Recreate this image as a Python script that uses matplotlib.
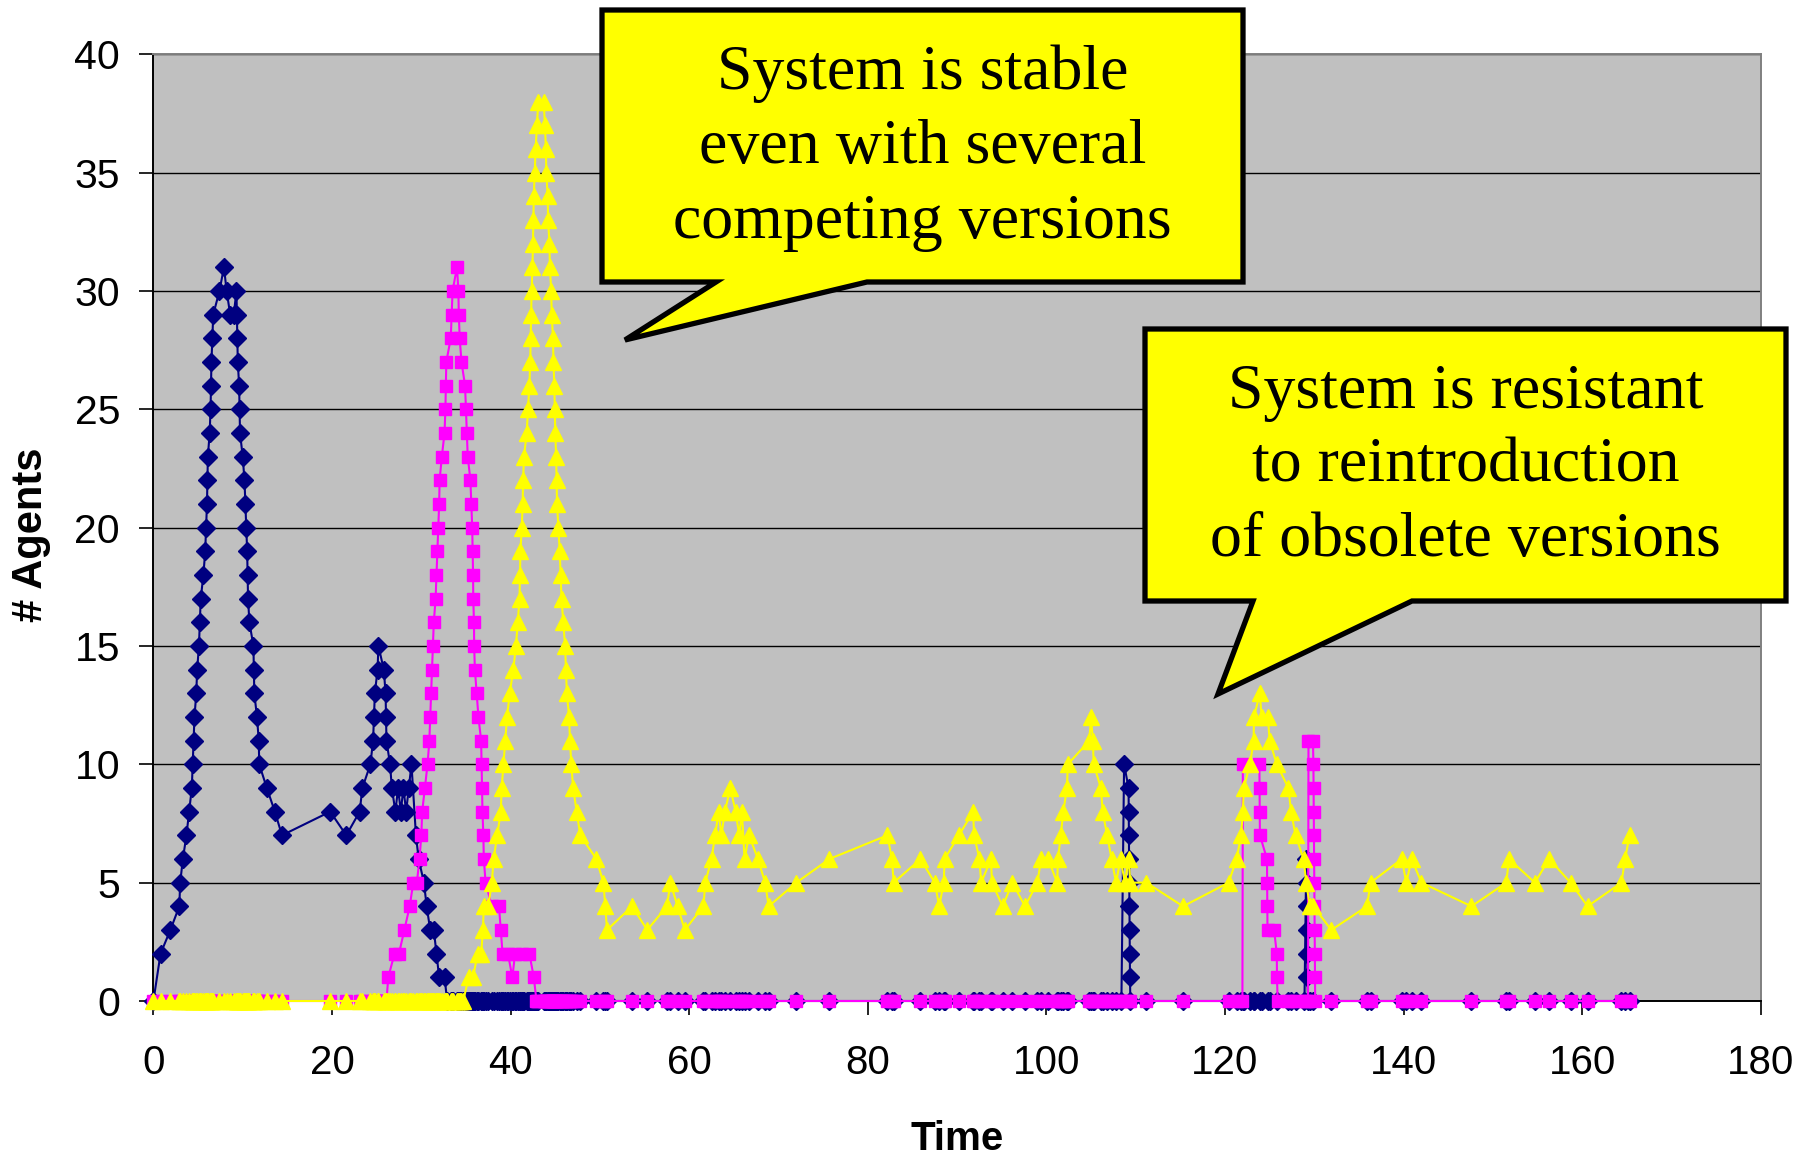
import matplotlib
matplotlib.use("Agg")
import matplotlib.pyplot as plt
from matplotlib.patches import Polygon

# ---------------------------------------------------------------------------
# Agent counts per software version over simulated time
# ---------------------------------------------------------------------------

# Version 1 (navy): initial outbreak, then dies out at t~33
v1_time = [0.0, 0.8, 1.9, 2.9, 3.0, 3.3, 3.7, 4.0, 4.3, 4.4,
           4.5, 4.6, 4.8, 4.9, 5.1, 5.2, 5.3, 5.6, 5.8, 5.9,
           6.0, 6.05, 6.1, 6.3, 6.4, 6.45, 6.5, 6.6, 6.7, 7.4,
           7.9, 8.2, 8.6, 9.0, 9.3, 9.35, 9.4, 9.45, 9.6, 9.65,
           9.7, 10.0, 10.2, 10.3, 10.4, 10.5, 10.55, 10.6, 10.75, 11.2,
           11.25, 11.3, 11.6, 11.8, 11.85, 12.7, 13.6, 14.4, 19.8, 21.6,
           23.1, 23.4, 24.3, 24.6, 24.7, 24.8, 25.1, 25.2, 25.8, 26.0,
           26.05, 26.1, 26.5, 26.7, 27.1, 27.4, 27.7, 28.0, 28.3, 28.6,
           28.9, 29.4, 29.7, 30.3, 30.6, 31.0, 31.4, 31.7, 32.0, 32.6,
           32.9]
v1_agents = [0, 2, 3, 4, 5, 6, 7, 8, 9, 10,
             11, 12, 13, 14, 15, 16, 17, 18, 19, 20,
             21, 22, 23, 24, 25, 26, 27, 28, 29, 30,
             31, 30, 29, 29, 30, 29, 28, 27, 26, 25,
             24, 23, 22, 21, 20, 19, 18, 17, 16, 15,
             14, 13, 12, 11, 10, 9, 8, 7, 8, 7,
             8, 9, 10, 11, 12, 13, 14, 15, 14, 13,
             12, 11, 10, 9, 8, 9, 8, 9, 8, 9,
             10, 7, 6, 5, 4, 3, 3, 2, 1, 1,
             0]

# Version 1 reintroduced twice later on
v1_spike_time = [108.4, 108.7, 109.2, 109.22, 109.24, 109.26, 109.28, 109.3, 109.32, 109.34,
                 109.36, 109.4,
                 128.9, 129.1, 129.15, 129.17, 129.19, 129.21, 129.23, 129.3]
v1_spike = [0, 10, 9, 8, 7, 6, 5, 4, 3, 2,
            1, 0,
            0, 6, 5, 4, 3, 2, 1, 0]

# Version 2 (magenta): takes over from version 1, then dies out at t~43
v2_time = [26.3, 27.0, 27.5, 28.1, 28.7, 29.1, 29.5, 29.8, 30.0, 30.1,
           30.4, 30.7, 30.9, 31.0, 31.1, 31.2, 31.3, 31.4, 31.6, 31.7,
           31.8, 31.9, 32.0, 32.05, 32.3, 32.6, 32.7, 32.75, 32.8, 33.3,
           33.4, 33.5, 34.0, 34.15, 34.2, 34.3, 34.5, 34.9, 35.0, 35.1,
           35.2, 35.5, 35.6, 35.7, 35.75, 35.8, 35.82, 35.9, 35.92, 36.0,
           36.2, 36.4, 36.7, 36.75, 36.8, 36.85, 36.95, 37.0, 37.2, 37.9,
           38.7, 38.9, 39.1, 39.7, 40.2, 40.5, 41.3, 42.1, 42.6, 42.9]
v2_agents = [1, 2, 2, 3, 4, 5, 5, 6, 7, 8,
             9, 10, 11, 12, 13, 14, 15, 16, 17, 18,
             19, 20, 21, 22, 23, 24, 25, 26, 27, 28,
             29, 30, 31, 30, 29, 28, 27, 26, 25, 24,
             23, 22, 21, 20, 19, 18, 17, 16, 15, 14,
             13, 12, 11, 10, 9, 8, 7, 6, 5, 4,
             4, 3, 2, 2, 1, 2, 2, 2, 1, 0]

# Version 2 reintroduced twice later on
v2_spike_time = [121.95, 122.0, 123.85, 123.87, 123.89, 123.91, 124.7, 124.72, 124.74, 124.76,
                 125.5, 125.8, 125.82, 125.9,
                 129.3, 129.35, 129.85, 129.9, 129.92, 129.94, 129.96, 129.98, 130.0, 130.02,
                 130.04, 130.06, 130.08, 130.1]
v2_spike = [0, 10, 10, 9, 8, 7, 6, 5, 4, 3,
            3, 2, 1, 0,
            0, 11, 11, 10, 9, 8, 7, 6, 5, 4,
            3, 2, 1, 0]

# Version 3 (yellow): takes over at t~35 and stays
v3_time = [34.7, 35.3, 35.8, 36.3, 36.7, 36.9, 37.0, 37.5, 37.9, 38.1,
           38.5, 38.9, 39.0, 39.2, 39.4, 39.6, 39.9, 40.3, 40.6, 40.8,
           41.0, 41.05, 41.1, 41.25, 41.35, 41.4, 41.5, 41.8, 41.95, 42.1,
           42.2, 42.25, 42.3, 42.35, 42.45, 42.5, 42.55, 42.6, 42.7, 42.8,
           42.95, 43.1, 43.7, 43.85, 43.95, 44.0, 44.15, 44.2, 44.35, 44.4,
           44.55, 44.6, 44.75, 44.8, 44.9, 44.95, 45.0, 45.1, 45.15, 45.2,
           45.35, 45.5, 45.6, 45.7, 45.9, 46.1, 46.2, 46.3, 46.55, 46.65,
           46.8, 47.0, 47.4, 47.8, 49.6, 50.4, 50.6, 50.8, 53.6, 55.3,
           57.5, 57.9, 58.7, 59.5, 61.6, 61.8, 62.5, 62.9, 63.3, 63.6,
           64.0, 64.6, 65.2, 65.6, 65.9, 66.2, 66.7, 67.7, 68.5, 68.9,
           72.0, 75.7, 82.2, 82.7, 82.9, 85.9, 87.5, 88.0, 88.5, 88.6,
           90.2, 91.8, 91.9, 92.5, 92.7, 93.8, 93.9, 95.1, 96.2, 97.6,
           99.0, 99.4, 100.2, 101.2, 101.3, 101.6, 101.9, 102.3, 102.4, 104.8,
           105.0, 105.2, 105.3, 106.1, 106.3, 106.8, 107.3, 107.8, 108.3, 108.8,
           109.2, 109.4, 111.2, 115.3, 120.4, 121.3, 121.8, 122.0, 122.1, 122.8,
           123.2, 123.25, 123.9, 124.1, 124.8, 125.0, 125.8, 127.1, 127.4, 127.9,
           128.8, 129.1, 129.5, 129.9, 131.9, 135.9, 136.3, 139.8, 140.3, 140.9,
           142.0, 147.6, 151.5, 151.8, 154.7, 156.3, 158.7, 160.6, 164.4, 164.8,
           165.3]
v3_agents = [0, 1, 1, 2, 2, 3, 4, 4, 5, 6,
             7, 8, 9, 10, 11, 12, 13, 14, 15, 16,
             17, 18, 19, 20, 21, 22, 23, 24, 25, 26,
             27, 28, 29, 30, 31, 32, 33, 34, 35, 36,
             37, 38, 38, 37, 36, 35, 34, 33, 32, 31,
             30, 29, 28, 27, 26, 25, 24, 23, 22, 21,
             20, 19, 18, 17, 16, 15, 14, 13, 12, 11,
             10, 9, 8, 7, 6, 5, 4, 3, 4, 3,
             4, 5, 4, 3, 4, 5, 6, 7, 8, 7,
             8, 9, 8, 7, 8, 6, 7, 6, 5, 4,
             5, 6, 7, 6, 5, 6, 5, 4, 5, 6,
             7, 8, 7, 6, 5, 6, 5, 4, 5, 4,
             5, 6, 6, 5, 6, 7, 8, 9, 10, 11,
             12, 11, 10, 9, 8, 7, 6, 5, 6, 5,
             6, 5, 5, 4, 5, 6, 7, 8, 9, 10,
             11, 12, 13, 12, 12, 11, 10, 9, 8, 7,
             6, 5, 4, 4, 3, 4, 5, 6, 5, 6,
             5, 4, 5, 6, 5, 6, 5, 4, 5, 6,
             7]

x_ticks = [0, 20, 40, 60, 80, 100, 120, 140, 160, 180]
y_ticks = [0, 5, 10, 15, 20, 25, 30, 35, 40]

callout_stable = "System is stable\neven with several\ncompeting versions"
callout_resistant = "System is resistant\nto reintroduction\nof obsolete versions"


def series(*parts):
    """Merge (times, values) pieces into one time-ordered series."""
    pts = []
    for times, values in parts:
        pts.extend(zip(times, values))
    pts.sort(key=lambda p: p[0])
    return [p[0] for p in pts], [p[1] for p in pts]


def idle(times):
    """A version with no agents at the given sample times."""
    return list(times), [0 for _ in times]


def outside(times, windows):
    return [t for t in times if not any(a <= t <= b for a, b in windows)]


# Sample times where a version sits at zero
v1_zero = sorted(set([t for t in v2_time if t > 32.9] + v3_time))
v1_zero = outside(v1_zero, [(108.2, 109.45), (128.7, 129.45)])
v2_zero_early = [t for t in v1_time if t < 26.3]
v2_zero_late = outside([t for t in v3_time if t > 42.9], [(121.5, 126.0), (129.2, 130.15)])
v3_zero = sorted(set([t for t in v1_time + v2_time if t < 34.7]))

v1_t, v1_n = series((v1_time, v1_agents), idle(v1_zero), (v1_spike_time, v1_spike))
v2_t, v2_n = series(idle(v2_zero_early), (v2_time, v2_agents), idle(v2_zero_late),
                    (v2_spike_time, v2_spike))
v3_t, v3_n = series(idle(v3_zero), (v3_time, v3_agents))

# ---------------------------------------------------------------------------
W, H = 1808, 1159
fig = plt.figure(figsize=(W / 100, H / 100), dpi=100)
fig.patch.set_facecolor("white")

left, right, top, bottom = 153.4, 1760.8, 54.2, 1001.0
ax = fig.add_axes([left / W, 1 - bottom / H, (right - left) / W, (bottom - top) / H])
ax.set_facecolor("#C0C0C0")

sans = "Liberation Sans"
ax.plot(v1_t, v1_n, color="#000080", lw=1.5, marker="D", ms=9.5, mec="#000080",
        mfc="#000080", clip_on=False, zorder=3)
ax.plot(v2_t, v2_n, color="#FF00FF", lw=1.5, marker="s", ms=8.8, mec="#FF00FF",
        mfc="#FF00FF", clip_on=False, zorder=4)
ax.plot(v3_t, v3_n, color="#FFFF00", lw=1.5, marker="^", ms=11.5, mec="#FFFF00",
        mfc="#FFFF00", clip_on=False, zorder=5)

ax.set_xlim(0, 180)
ax.set_ylim(0, 40)
ax.set_xticks(x_ticks)
ax.set_yticks(y_ticks)
ax.set_xticklabels([str(v) for v in x_ticks], family=sans, fontsize=29)
ax.set_yticklabels([str(v) for v in y_ticks], family=sans, fontsize=29.5)
ax.tick_params(axis="both", direction="out", length=10, width=1.2, color="black")
ax.tick_params(axis="y", pad=14)
ax.tick_params(axis="x", pad=21)

ax.yaxis.grid(True, color="black", lw=1.0)
ax.xaxis.grid(False)
ax.set_axisbelow(True)

for side in ("left", "bottom"):
    ax.spines[side].set_color("black")
    ax.spines[side].set_linewidth(1.4)
for side in ("top", "right"):
    ax.spines[side].set_color("#808080")
    ax.spines[side].set_linewidth(1.4)

fig.text(31 / W, 1 - 535 / H, "# Agents", rotation=90, ha="center", va="center",
         family=sans, fontweight="bold", fontsize=30)
fig.text(957 / W, 1 - 1139 / H, "Time", ha="center", va="center",
         family=sans, fontweight="bold", fontsize=29)

# ---------------------------------------------------------------------------
# Speech-bubble annotations drawn in figure pixel space
ov = fig.add_axes([0, 0, 1, 1], zorder=10)
ov.set_xlim(0, W)
ov.set_ylim(H, 0)
ov.axis("off")
ov.patch.set_alpha(0)

bubble1 = [(602, 10), (1243, 10), (1243, 282), (867, 282), (625, 340), (716, 282), (602, 282)]
bubble2 = [(1145, 329), (1786, 329), (1786, 601), (1412, 601), (1218, 694), (1253, 601), (1145, 601)]
for pts in (bubble1, bubble2):
    ov.add_patch(Polygon(pts, closed=True, facecolor="#FFFF00", edgecolor="black",
                         lw=3.8, joinstyle="miter"))

serif = "Liberation Serif"
ov.text(922.5, 148, callout_stable, ha="center", va="center", family=serif,
        fontsize=46, linespacing=1.37)
ov.text(1465.5, 467, callout_resistant, ha="center", va="center", family=serif,
        fontsize=46, linespacing=1.37)

fig.savefig("out.png", dpi=100, facecolor="white")
